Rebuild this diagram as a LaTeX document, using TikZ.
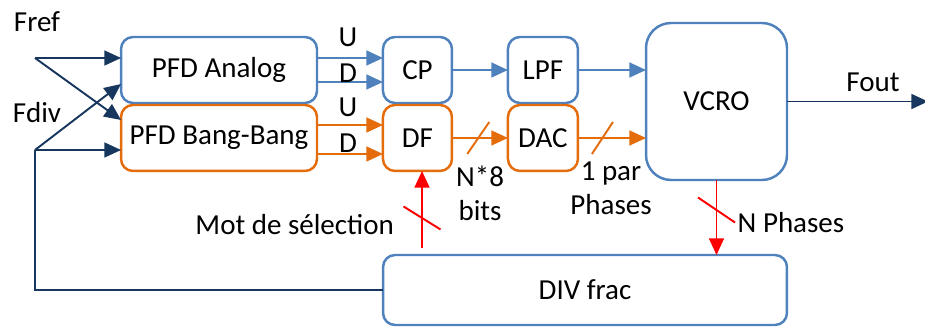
\documentclass[tikz,border=0pt]{standalone}
\usepackage{fontspec}
\setmainfont{Carlito}
\usetikzlibrary{arrows.meta,positioning,calc}
\definecolor{PllBlue}{HTML}{4F81BD}
\definecolor{PllOrange}{HTML}{E46C0A}
\definecolor{PllNavy}{HTML}{17375E}
\definecolor{PllRed}{HTML}{FF0000}

\begin{document}
\begin{tikzpicture}[x=0.02cm, y=-0.02cm,
    every node/.style={font=\fontsize{16.5}{19.5}\selectfont, text=black},
    blockA/.style={rounded corners=0.24cm, draw=PllBlue, line width=1.4pt,
      inner sep=0pt, outer sep=0pt, minimum height=1.32cm},
    blockB/.style={blockA, draw=PllOrange},
    sig/.style={-{Triangle[length=9.5pt,width=8.5pt]}, line width=1.1pt},
    bus/.style={line width=1.1pt}]
  \useasboundingbox (0,0) rectangle (925,327);
  % blocs
  \node[blockA, minimum width=3.92cm] (pfda) at (219,70) {PFD Analog};
  \node[blockB, minimum width=3.92cm, below=0.04cm of pfda] (pfdb) {PFD Bang-Bang};
  \node[blockA, minimum width=1.38cm, right=1.32cm of pfda] (cp) {CP};
  \node[blockB, minimum width=1.38cm, below=0.04cm of cp] (df) {DF};
  \node[blockA, minimum width=1.40cm, right=1.12cm of cp] (lpf) {LPF};
  \node[blockB, minimum width=1.40cm, below=0.04cm of lpf] (dac) {DAC};
  \node[blockA, rounded corners=0.5cm, minimum width=2.82cm,
    minimum height=3.14cm] (vcro) at (716.5,101.5) {VCRO};
  \node[blockA, minimum width=8.08cm, minimum height=1.4cm] (div) at (585,290) {DIV frac};
  % entrees
  \coordinate (fref) at (35,58);
  \coordinate (fdiv) at (35,150);
  \node (freflbl) at (37,22) {Fref};
  \node (fdivlbl) at (37,113) {Fdiv};
  \draw[sig, PllNavy] (fref) -- (fref -| pfda.west);
  \draw[sig, PllNavy] (fref) -- ([yshift=0.36cm]pfdb.west);
  \draw[sig, PllNavy] (fdiv) -- ([yshift=-0.28cm]pfda.west);
  \draw[sig, PllNavy] (fdiv) -- (fdiv -| pfdb.west);
  \draw[bus, PllNavy] (fdiv) |- (div.west);
  % U / D
  \draw[sig, PllBlue] ([yshift=0.24cm]pfda.east) -- ([yshift=0.24cm]cp.west);
  \draw[sig, PllBlue] ([yshift=-0.24cm]pfda.east) -- ([yshift=-0.24cm]cp.west);
  \draw[sig, PllOrange] ([yshift=0.26cm]pfdb.east) -- ([yshift=0.26cm]df.west);
  \draw[sig, PllOrange] ([yshift=-0.32cm]pfdb.east) -- ([yshift=-0.32cm]df.west);
  \node (ua) at (348,37) {U};
  \node (da) at (348,73) {D};
  \node (ub) at (348,107) {U};
  \node (db) at (348,143) {D};
  % chaine
  \draw[sig, PllBlue] (cp) -- (lpf);
  \draw[sig, PllOrange] (df) -- (dac) coordinate[pos=0.47] (bus1);
  \draw[bus, PllOrange] ($(bus1)+(-11,16)$) -- ($(bus1)+(11,-16)$);
  \node[align=center] (nbits) at (480,193) {N*8\\bits};
  \draw[sig, PllBlue] (lpf.east) -- (lpf.east -| vcro.west);
  \draw[sig, PllOrange] (dac.east) -- (dac.east -| vcro.west) coordinate[pos=0.36] (bus2);
  \draw[bus, PllOrange] ($(bus2)+(-10.5,16)$) -- ($(bus2)+(10.5,-16)$);
  \node[align=center] (npar) at (611,188) {1 par\\Phases};
  % sortie
  \coordinate (fout) at (928,104);
  \draw[sig, PllNavy] (vcro.east) -- (vcro.east -| fout);
  \node (foutlbl) at (873,82) {Fout};
  % retour
  \draw[sig, PllRed] (vcro.south) -- (vcro.south |- div.north) coordinate[pos=0.4] (bus3);
  \draw[bus, PllRed] ($(bus3)+(-18.5,-12.5)$) -- ($(bus3)+(18.5,12.5)$)
    node[right, inner sep=1pt] (nph) {N Phases};
  \coordinate (selin) at (422,248);
  \draw[sig, PllRed] (selin) -- (selin |- df.south) coordinate[pos=0.39] (bus4);
  \draw[bus, PllRed] ($(bus4)+(-18.5,-11.5)$) -- ($(bus4)+(18.5,11.5)$);
  \node[anchor=east] (mot) at (400,225) {Mot de sélection};
\end{tikzpicture}
\end{document}
